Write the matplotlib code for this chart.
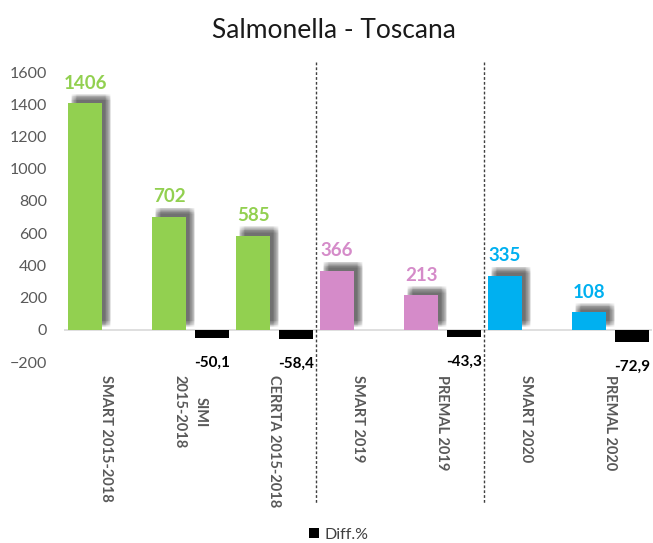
import numpy as np
import matplotlib
matplotlib.use("Agg")
import matplotlib.pyplot as plt
import matplotlib.patheffects as pe
from matplotlib.transforms import blended_transform_factory

plt.rcParams['font.family'] = ['Lato', 'DejaVu Sans']

categories = ["SMART 2015-2018", "SIMI\n2015-2018", "CERRTA 2015-2018",
              "SMART 2019", "PREMAL 2019", "SMART 2020", "PREMAL 2020"]
values = [1406, 702, 585, 366, 213, 335, 108]
diffs = [None, -50.1, -58.4, None, -43.3, None, -72.9]
colors = ["#92D050", "#92D050", "#92D050", "#D58BC9", "#D58BC9", "#00B0F0", "#00B0F0"]
group_breaks = [2.5, 4.5]
yticks = [-200, 0, 200, 400, 600, 800, 1000, 1200, 1400, 1600]

fig = plt.figure(figsize=(6.53, 5.43), dpi=100)
ax = fig.add_axes([64 / 653, 1 - 362 / 543, 588 / 653, 290 / 543])

x = np.arange(len(categories))
w = 0.405

# soft drop shadow: many faint copies spread around the main offset
shadow = []
for sx in np.linspace(2.0, 6.6, 9):
    for sy in np.linspace(2.0, 6.6, 9):
        shadow.append(pe.SimplePatchShadow(offset=(sx, sy), shadow_rgbFace="#555555", alpha=0.014))
shadow.append(pe.Normal())

bars = ax.bar(x - 0.25, values, w, color=colors, zorder=3)
for b in bars:
    b.set_path_effects(shadow)
for xi, v, c in zip(x, values, colors):
    ax.annotate(str(v), (xi - 0.25, v), xytext=(0, 10.5), textcoords="offset points",
                ha="center", va="baseline", color=c, fontsize=13.5, fontweight="bold")

dx = [xi + 0.26 for xi, d in zip(x, diffs) if d is not None]
dv = [d for d in diffs if d is not None]
dbars = ax.bar(dx, dv, w, color="black", zorder=3, label="Diff.%")
for xi, d in zip(dx, dv):
    ax.annotate(("%.1f" % d).replace(".", ","), (xi, d), xytext=(0, -13),
                textcoords="offset points", ha="center", va="top",
                color="black", fontsize=11, fontweight="bold")

ax.axhline(0, color="#D9D9D9", lw=1.2, zorder=2)

trans = blended_transform_factory(ax.transData, ax.transAxes)
for gb in group_breaks:
    ax.plot([gb, gb], [1.034, -0.486], transform=trans, color="#404040",
            lw=1, ls=(0, (2, 1.5)), clip_on=False, zorder=4)

# category labels, rotated, below the axis; extra lines centred on the longest one
lab_kw = dict(rotation=270, fontsize=10.5, fontweight="bold", color="#595959")
sp = 15.8
for xi, cat in zip(x, categories):
    lines = cat.split("\n")
    n = len(lines)
    L = max(range(n), key=lambda i: len(lines[i]))
    main = ax.annotate(lines[L], (xi, -0.045), xycoords=trans,
                       xytext=(((n - 1) / 2 - L) * sp, 0), textcoords="offset points",
                       ha="center", va="top", annotation_clip=False, **lab_kw)
    for i, line in enumerate(lines):
        if i == L:
            continue
        ax.annotate(line, (0.5, 0.5), xycoords=main, xytext=((L - i) * sp, 0),
                    textcoords="offset points", ha="center", va="center",
                    annotation_clip=False, **lab_kw)

ax.set_xlim(-0.5, len(categories) - 0.5)
ax.set_ylim(-200, 1600)
ax.set_yticks(yticks)
ax.set_xticks([])
ax.tick_params(axis="y", length=0, pad=12, labelsize=11.5, labelcolor="#595959")
for s in ax.spines.values():
    s.set_visible(False)

fig.text(334 / 653, 1 - 30 / 543, "Salmonella - Toscana", ha="center", va="center",
         fontsize=19, color="#1a1a1a")

fig.legend(handles=[dbars], labels=["Diff.%"], loc="center",
           bbox_to_anchor=(339 / 653, 1 - 535 / 543), frameon=False,
           handlelength=0.6, handleheight=0.6, handletextpad=0.4,
           prop={"size": 11.5}, labelcolor="#404040")

fig.savefig("out.png", dpi=100)
